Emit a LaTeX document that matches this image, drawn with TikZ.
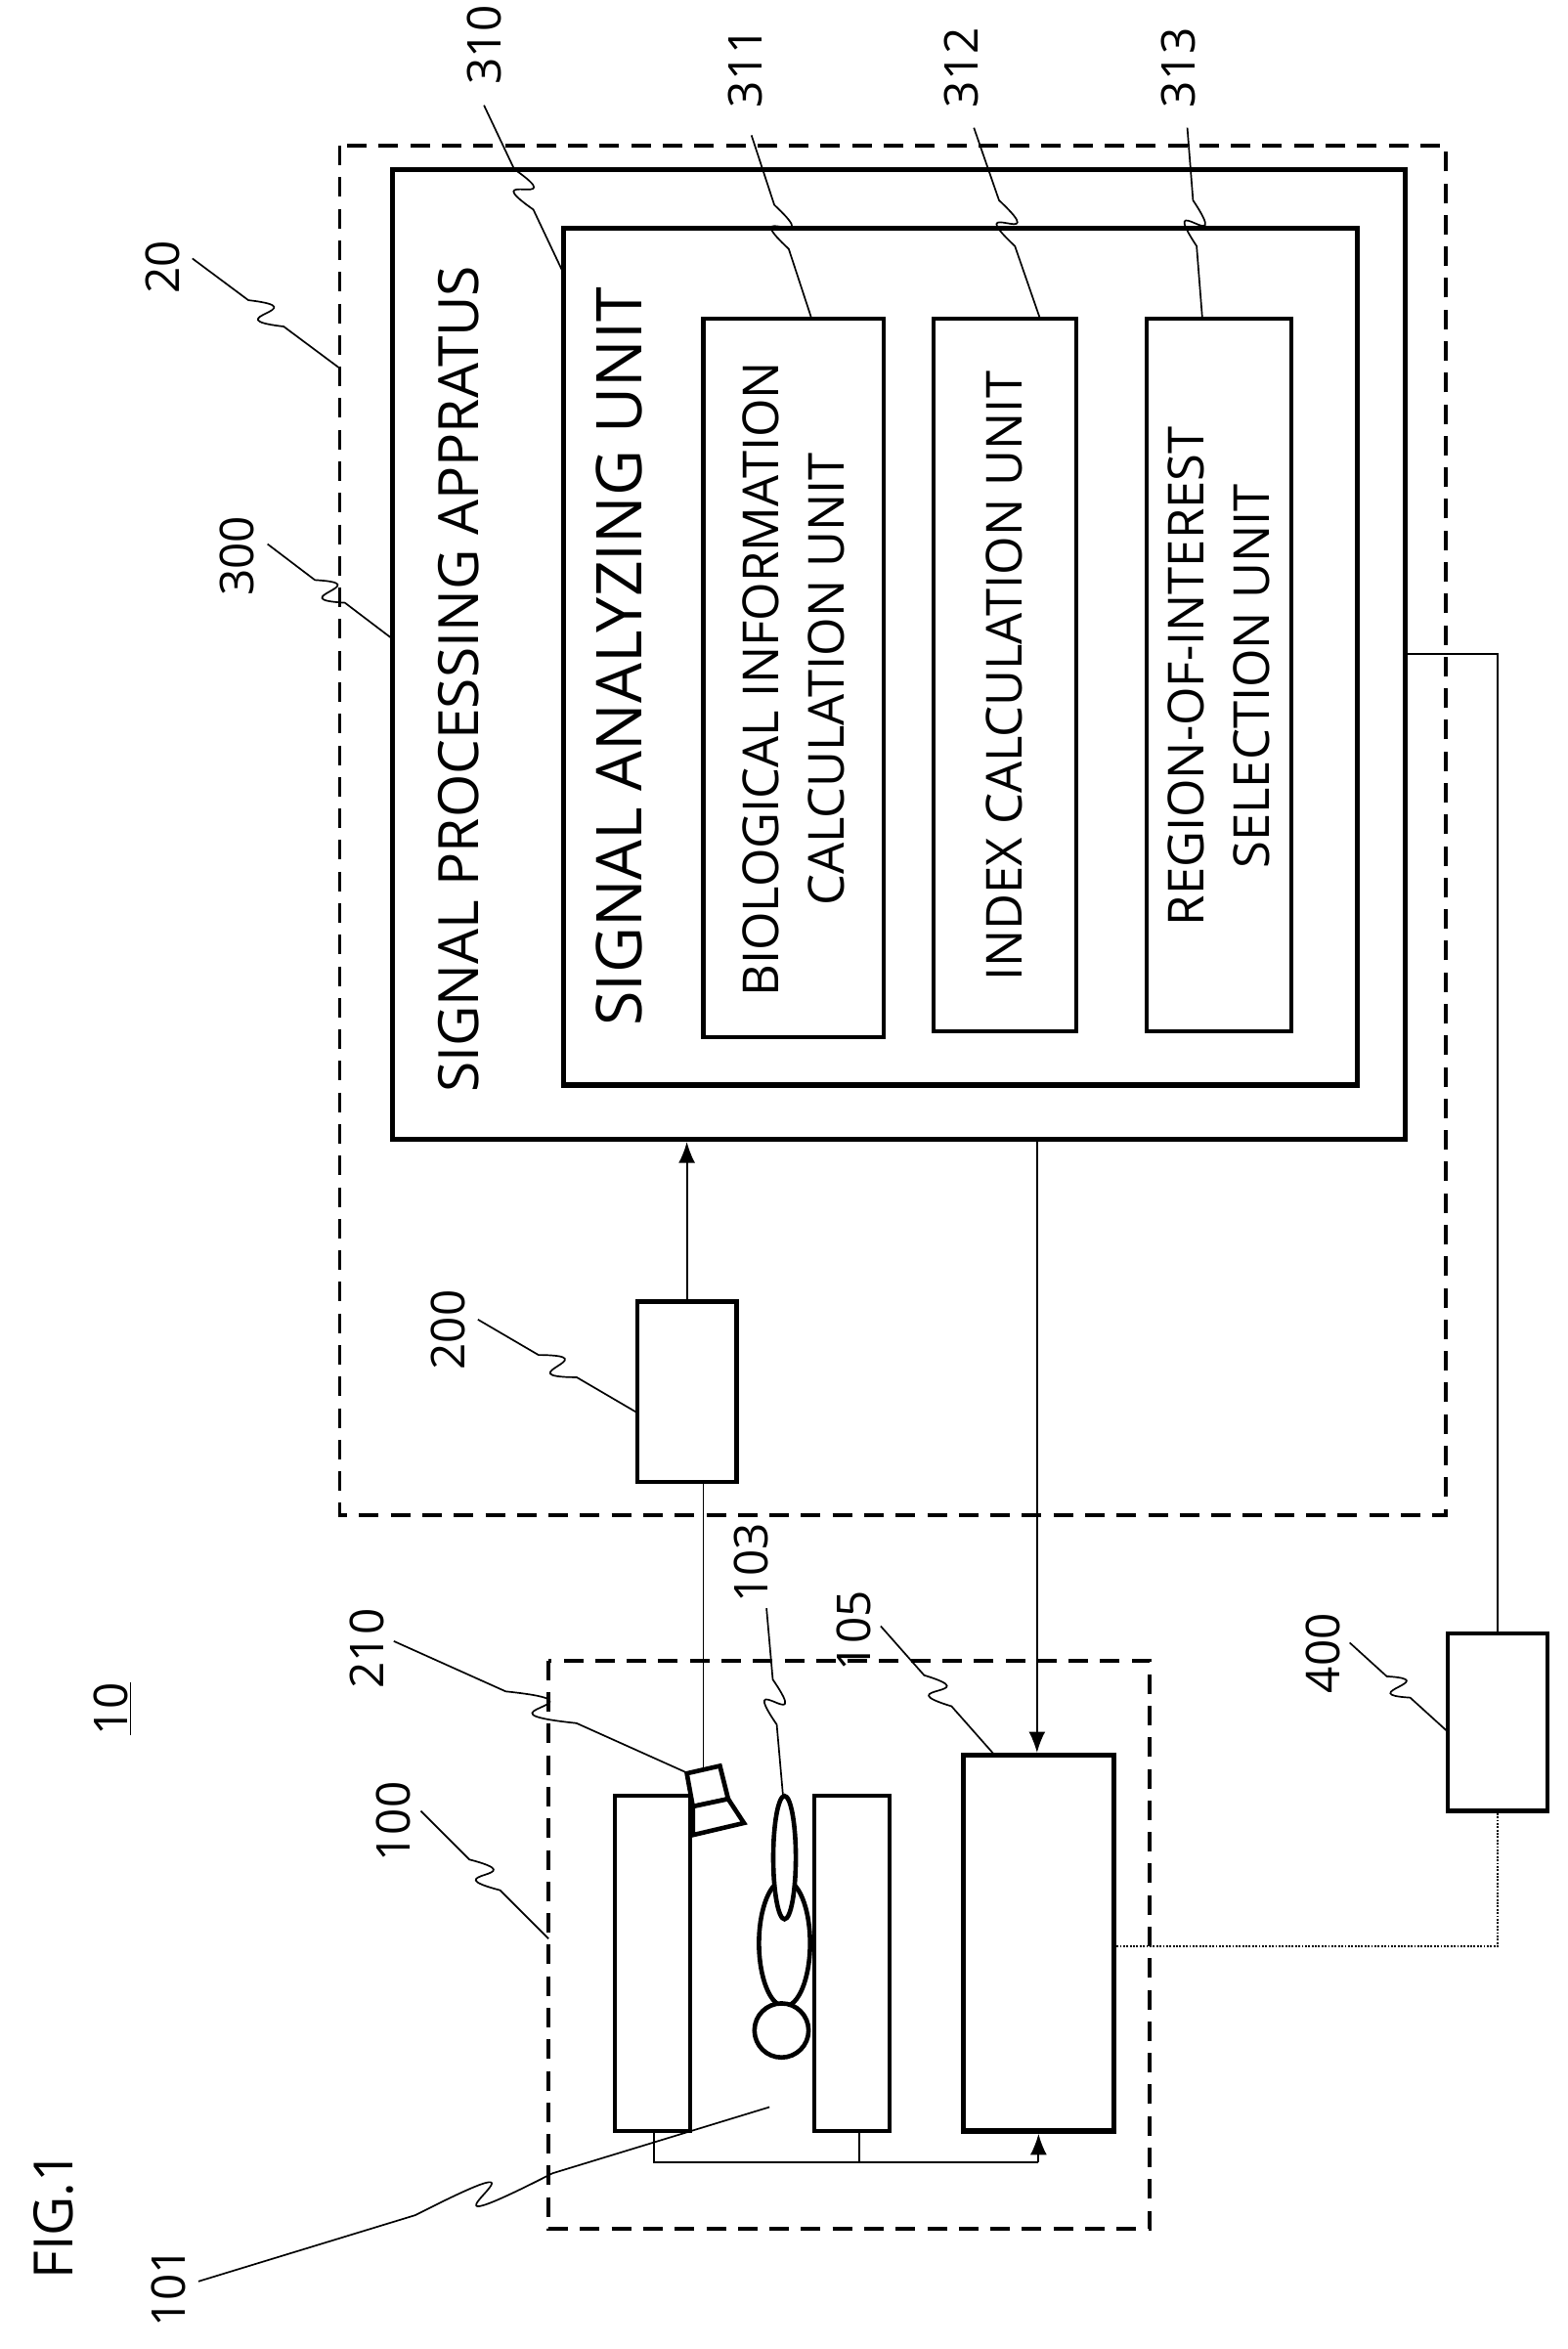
\documentclass[tikz,border=0pt]{standalone}
\usepackage{fontspec}
\setmainfont{Open Sans}
\usetikzlibrary{calc,shapes.geometric,arrows.meta}
\begin{document}
\begin{tikzpicture}[x=1pt,y=-1pt,
  thick box/.style={draw,line width=3.5pt,inner sep=0pt},
  thin box/.style={draw,line width=2.8pt,inner sep=0pt},
  dbox/.style={draw,line width=2.4pt,dash pattern=on 13pt off 8pt},
  conn/.style={line width=1.2pt},
  arr/.style={conn,-{Latex[length=14pt,width=11pt]}},
  lead/.style={line width=1.1pt},
  lbl/.style={font=\fontsize{31}{33}\selectfont,rotate=90,inner sep=0pt},
  txt/.style={font=\fontsize{33}{44}\selectfont,rotate=90,align=center,inner sep=0pt},
  shp/.style={draw,line width=3pt,fill=white,inner sep=0pt}]
\useasboundingbox (0,0) rectangle (1043,1563);
\newcommand{\leader}[2]{\draw[lead] (#1) -- ($(#1)!0.38!(#2)$) .. controls ($(#1)!0.72!(#2)!24pt!90:(#2)$) and ($(#1)!0.28!(#2)!-24pt!90:(#2)$) .. ($(#1)!0.62!(#2)$) -- (#2);}
% boxes
\draw[dbox] (226,97) rectangle (962,1008);
\coordinate (b20) at (226,245);
\node[thick box,minimum width=674pt,minimum height=645pt] (b300) at (598,435.5) {};
\node[thick box,minimum width=528pt,minimum height=570pt] (b310) at (639,437) {};
\node[thin box,minimum width=120pt,minimum height=478pt] (b311) at (528,451) {};
\node[thin box,minimum width=95pt,minimum height=474pt] (b312) at (668.5,449) {};
\node[thin box,minimum width=96pt,minimum height=474pt] (b313) at (811,449) {};
\node[txt,font=\fontsize{37}{38}\selectfont] at (305,452) {SIGNAL PROCESSING APPRATUS};
\node[txt,font=\fontsize{42}{44}\selectfont] at (412,437) {SIGNAL ANALYZING UNIT};
\node[txt] at (528,452) {BIOLOGICAL INFORMATION\\CALCULATION UNIT};
\node[txt] at (668.5,450) {INDEX CALCULATION UNIT};
\node[txt] at (811,450) {REGION-OF-INTEREST\\SELECTION UNIT};
\node[thin box,minimum width=66pt,minimum height=120pt] (b200) at (457,926) {};
\node[thin box,minimum width=66pt,minimum height=118pt] (b400) at (996.5,1146) {};
% bottom dashed box
\draw[dbox] (365,1105) rectangle (765,1483);
\coordinate (b100) at (365,1290);
\node[thin box,minimum width=50pt,minimum height=223pt] (lrect) at (434,1306.5) {};
\node[thin box,minimum width=50pt,minimum height=223pt] (rrect) at (567,1306.5) {};
\node[thick box,minimum width=100pt,minimum height=250pt] (b105) at (691,1293) {};
% person
\node[shp,ellipse,minimum width=34pt,minimum height=84pt] (body) at (522,1293) {};
\node[shp,circle,minimum size=36pt] (head) at (520,1351) {};
\node[shp,ellipse,minimum width=15pt,minimum height=82pt] (leg) at (522,1236) {};
% camera
\draw[shp,line join=miter] (457,1180) -- (479,1175) -- (484.5,1197) -- (461,1202) -- cycle;
\draw[shp,line join=miter] (461,1202) -- (484.5,1197) -- (495,1213) -- (461,1221) -- cycle;
\coordinate (cam) at (468,1177);
% connectors
\draw[arr] (b200.north) -- (b200.north |- b300.south);
\draw[conn] (b200.south -| cam) -- (cam);
\draw[arr] (690,758) -- (b105.north -| 690,0);
\draw[conn] (b300.east |- 0,435) -| (b400.north);
\draw[conn,densely dotted] (b400.south) |- (b105.east |- 0,1295);
\coordinate (j1) at (435,1439);
\coordinate (j2) at (572,1439);
\draw[conn] (lrect.south -| j1) -- (j1) -- (j2) -- (691,1439);
\draw[arr] (691,1439) -- (b105.south);
\draw[conn] (rrect.south -| j2) -- (j2);
% labels
\node[lbl] (l20) at (108,178) {20};
\node[lbl] (l300) at (158,370) {300};
\node[lbl] (l310) at (322,30) {310};
\node[lbl] (l311) at (496,45) {311};
\node[lbl] (l312) at (640,45) {312};
\node[lbl] (l313) at (784,45) {313};
\node[lbl] (l200) at (298,885) {200};
\node[lbl] (l210) at (244,1097) {210};
\node[lbl] (l103) at (500,1040) {103};
\node[lbl] (l105) at (568,1085) {105};
\node[lbl] (l100) at (262,1212) {100};
\node[lbl] (l400) at (880,1100) {400};
\node[lbl] (l101) at (112,1522) {101};
\node[lbl,font=\fontsize{36}{38}\selectfont] (lfig) at (36,1474) {FIG.1};
\node[lbl] (l10) at (75,1137) {\underline{10}};
\coordinate (t300) at (261,425);
\coordinate (t310) at (375,182);
\coordinate (t311) at (540,212);
\coordinate (t312) at (692,212);
\coordinate (t313) at (800,212);
\coordinate (t200) at (424,940);
\coordinate (t210) at (458,1180);
\coordinate (t103) at (521,1195);
\coordinate (t105) at (662,1168);
\coordinate (t400) at (963,1152);
\coordinate (t101) at (512,1402);
\coordinate (s20) at (128,172);
\coordinate (s300) at (178,362);
\coordinate (s310) at (322,70);
\coordinate (s311) at (500,90);
\coordinate (s312) at (648,85);
\coordinate (s313) at (790,85);
\coordinate (s200) at (318,878);
\coordinate (s210) at (262,1092);
\coordinate (s103) at (510,1070);
\coordinate (s105) at (586,1082);
\coordinate (s100) at (280,1205);
\coordinate (s400) at (898,1093);
\coordinate (s101) at (132,1518);
\leader{s20}{b20}
\leader{s300}{t300}
\leader{s310}{t310}
\leader{s311}{t311}
\leader{s312}{t312}
\leader{s313}{t313}
\leader{s200}{t200}
\leader{s210}{t210}
\leader{s103}{t103}
\leader{s105}{t105}
\leader{s100}{b100}
\leader{s400}{t400}
\leader{s101}{t101}
\end{tikzpicture}
\end{document}
